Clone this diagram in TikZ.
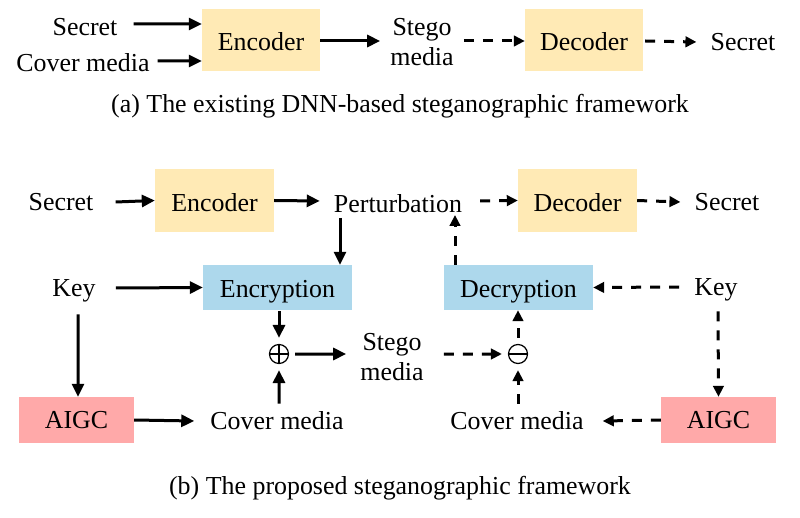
\documentclass[tikz,border=0pt]{standalone}
\usepackage{fontspec}
\setmainfont{Liberation Serif}
\usetikzlibrary{arrows.meta}
\definecolor{yel}{HTML}{FFEAB5}
\definecolor{blu}{HTML}{ADD8EC}
\definecolor{pnk}{HTML}{FFA9A9}
\newcommand\fsz{\fontsize{26}{30}\selectfont}
\tikzset{
  txt/.style={inner sep=0pt, font=\fsz, align=center},
  boxA/.style={inner sep=0pt, font=\fsz, text height=22bp, text depth=0pt, minimum width=118bp, minimum height=62bp},
  ybox/.style={boxA, fill=yel},
  bbox/.style={boxA, fill=blu, text height=20.5bp, minimum width=149bp, minimum height=45bp},
  pbox/.style={boxA, fill=pnk, text height=17.8bp, minimum width=115bp, minimum height=46bp},
  arr/.style={line width=3bp, -{Triangle[length=13bp,width=12bp]}},
  darr/.style={line width=3bp, -{Triangle[length=11bp,width=10.5bp]}, dash pattern=on 10bp off 9bp},
  opc/.style={circle, draw, line width=1.2bp, minimum size=19bp, inner sep=0pt},
}
\begin{document}
\begin{tikzpicture}[x=1bp,y=-1bp]
\useasboundingbox[fill=white] (0,0) rectangle (800,518);
% (a)
\node[txt] (secA) at (85,27) {Secret};
\node[txt] (covA) at (83,63) {Cover media};
\node[ybox] (encA) at (261,40) {Encoder};
\node[txt] (stegoA) at (422,42) {Stego\\media};
\node[ybox] (decA) at (584,40) {Decoder};
\node[txt] (secA2) at (743,42) {Secret};
\node[txt] (capA) at (400,106) {(a) The existing DNN-based steganographic framework};
\draw[arr] ([xshift=16bp,yshift=3bp]secA.east) -- ([yshift=16bp]encA.west);
\draw[arr] ([xshift=8bp,yshift=2bp]covA.east) -- ([yshift=-21bp]encA.west);
\draw[arr] ([yshift=-1bp]encA.east) -- ([xshift=-10bp,yshift=1bp]stegoA.west);
\draw[darr] ([xshift=10bp,yshift=1bp]stegoA.east) -- ([yshift=-1bp]decA.west);
\draw[darr] ([xshift=2bp,yshift=-1bp]decA.east) -- ([xshift=-14bp]secA2.west);
% (b)
\node[txt] (secB) at (61,202) {Secret};
\node[ybox, minimum width=119bp, minimum height=63bp] (encB) at (214.5,200.5) {Encoder};
\node[txt] (pert) at (398,203.5) {Perturbation};
\node[ybox, minimum width=119bp, minimum height=63bp] (decB) at (577.5,200.5) {Decoder};
\node[txt] (secB2) at (727,202) {Secret};
\node[bbox] (encr) at (277.5,287.5) {Encryption};
\node[bbox] (decr) at (518.5,287.5) {Decryption};
\node[txt] (keyL) at (74,291) {Key};
\node[txt] (keyR) at (716,290) {Key};
\node[pbox] (aigcL) at (76.5,420) {AIGC};
\node[pbox] (aigcR) at (718.5,420) {AIGC};
\node[txt] (covL) at (277,421) {Cover media};
\node[txt] (covR) at (517,421) {Cover media};
\node[opc] (plus) at (279,354) {};
\node[opc] (minus) at (518,354) {};
\draw[line width=1.2bp] (plus.north) -- (plus.south) (plus.west) -- (plus.east);
\draw[line width=1.2bp] (minus.west) -- (minus.east);
\node[txt] (stegoB) at (392,357) {Stego\\media};
\node[txt] (capB) at (400,488) {(b) The proposed steganographic framework};
\coordinate (pd) at (340,218);
\coordinate (pu) at (455,215);
% arrows
\draw[arr] ([xshift=22bp]secB.east) -- (encB.west);
\draw[arr] (encB.east) -- ([xshift=-14bp,yshift=2.5bp]pert.west);
\draw[darr] ([xshift=18bp,yshift=2.5bp]pert.east) -- (decB.west);
\draw[darr] (decB.east) -- ([xshift=-14bp]secB2.west);
\draw[arr] (pd) -- (pd |- encr.north);
\draw[darr] (pu |- decr.north) -- (pu);
\draw[arr] ([xshift=20bp,yshift=3bp]keyL.east) -- (encr.west);
\draw[darr] ([xshift=-15bp,yshift=3bp]keyR.west) -- (decr.east);
\draw[arr] ([xshift=4bp,yshift=-12bp]keyL.south) -- ([xshift=1.5bp]aigcL.north);
\draw[darr] ([xshift=2bp,yshift=-10bp]keyR.south) -- (aigcR.north);
\draw[arr] (aigcL.east) -- ([xshift=-16bp]covL.west);
\draw[darr] (aigcR.west) -- ([xshift=19bp]covR.east);
\draw[arr] (encr.south -| plus) ++(0,1) -- ([yshift=6bp]plus.north);
\draw[arr] ([xshift=2bp,yshift=8bp]covL.north) -- ([yshift=-6bp]plus.south);
\draw[arr] ([xshift=6bp]plus.east) -- ([xshift=-14bp,yshift=3bp]stegoB.west);
\draw[darr] ([xshift=20bp,yshift=3bp]stegoB.east) -- ([xshift=-6bp]minus.west);
\draw[darr] ([xshift=1bp,yshift=8bp]covR.north) -- ([yshift=-6bp]minus.south);
\draw[darr] ([yshift=6bp]minus.north) -- (minus |- decr.south);
\end{tikzpicture}
\end{document}
